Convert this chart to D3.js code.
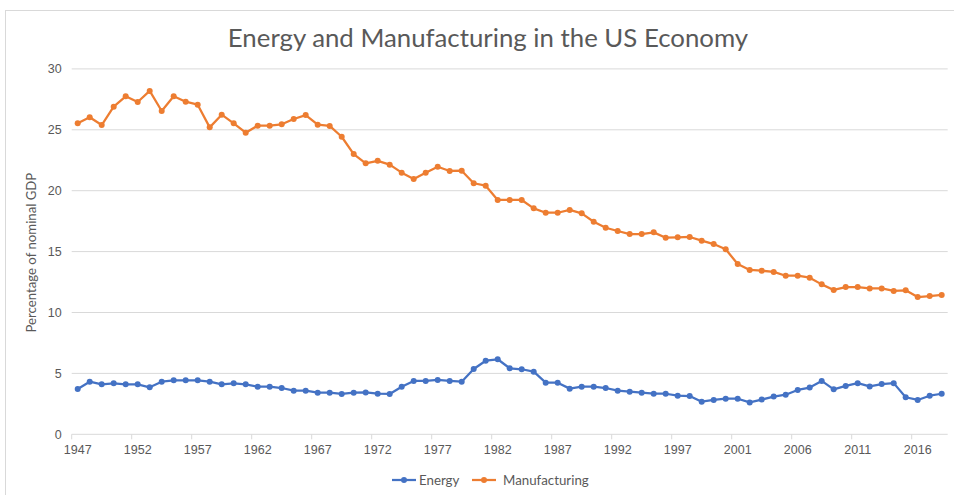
<!DOCTYPE html>
<html>
<head>
<meta charset="utf-8">
<script src="https://cdn.jsdelivr.net/npm/d3@7"></script>
<style>
  html, body { margin: 0; padding: 0; background: #fff; }
  svg { display: block; font-family: Lato, "Open Sans", sans-serif; }
</style>
</head>
<body>
<svg id="chart" width="954" height="495"></svg>
<script>
const categories = [
  "1947","1948","1949","1950","1951","1952","1953","1954","1955","1956",
  "1957","1958","1959","1960","1961","1962","1963","1964","1965","1966",
  "1967","1968","1969","1970","1971","1972","1973","1974","1975","1976",
  "1977","1978","1979","1980","1981","1982","1983","1984","1985","1986",
  "1987","1988","1989","1990","1991","1992","1993","1994","1995","1996",
  "1997","1997","1998","1999","2000","2001","2002","2003","2004","2005",
  "2006","2007","2008","2009","2010","2011","2012","2013","2014","2015",
  "2016","2017","2018"
];
const energy = [
  3.72,4.32,4.10,4.19,4.10,4.10,3.86,4.32,4.43,4.43,
  4.43,4.32,4.10,4.19,4.10,3.91,3.91,3.80,3.58,3.58,
  3.42,3.42,3.31,3.42,3.44,3.33,3.31,3.91,4.38,4.38,
  4.46,4.38,4.32,5.36,6.04,6.16,5.42,5.34,5.14,4.24,
  4.24,3.75,3.91,3.91,3.80,3.58,3.50,3.42,3.33,3.33,
  3.17,3.14,2.68,2.82,2.92,2.92,2.62,2.85,3.10,3.25,
  3.64,3.84,4.38,3.69,3.97,4.20,3.93,4.12,4.20,3.04,
  2.82,3.17,3.33
];
const manufacturing = [
  25.53,26.03,25.39,26.90,27.75,27.28,28.19,26.54,27.75,27.31,
  27.06,25.20,26.24,25.53,24.76,25.34,25.34,25.45,25.89,26.21,
  25.42,25.32,24.43,23.01,22.25,22.45,22.14,21.48,20.96,21.48,
  21.97,21.62,21.64,20.61,20.41,19.24,19.24,19.24,18.55,18.19,
  18.19,18.42,18.14,17.45,16.96,16.69,16.44,16.44,16.58,16.14,
  16.17,16.20,15.90,15.62,15.19,13.98,13.49,13.43,13.33,13.02,
  13.02,12.86,12.31,11.85,12.09,12.09,11.98,11.98,11.77,11.82,
  11.27,11.35,11.44
];
const yTicks = [0, 5, 10, 15, 20, 25, 30];
const seriesNames = ["Energy", "Manufacturing"];
const seriesColors = ["#4472C4", "#ED7D31"];
const titleText = "Energy and Manufacturing in the US Economy";
const yTitle = "Percentage of nominal GDP";

const svg = d3.select("#chart");
const plot = { left: 71.7, right: 947.7, top: 68.9, bottom: 434.3 };
const textColor = "#595959";

// outer border
svg.append("rect").attr("x", 5.5).attr("y", 10.5).attr("width", 960).attr("height", 500)
  .attr("fill", "none").attr("stroke", "#d9d9d9").attr("stroke-width", 1);

const x = d3.scaleBand().domain(d3.range(categories.length)).range([plot.left, plot.right]).padding(0);
const y = d3.scaleLinear().domain([0, 30]).range([plot.bottom, plot.top]);
const bw = x.bandwidth();
const cx = i => x(i) + bw / 2;

// gridlines
svg.append("g").selectAll("line").data(yTicks.filter(t => t > 0)).join("line")
  .attr("x1", plot.left).attr("x2", plot.right)
  .attr("y1", d => y(d)).attr("y2", d => y(d))
  .attr("stroke", "#d9d9d9").attr("stroke-width", 1);

// y axis labels
const yAxis = d3.axisLeft(y).tickValues(yTicks).tickSize(0).tickPadding(10);
const gy = svg.append("g").attr("transform", `translate(${plot.left},0)`).call(yAxis);
gy.select(".domain").remove();
gy.selectAll("text").attr("fill", textColor).style("font-size", "12.5px");

// x axis
const tickIdx = d3.range(0, categories.length, 5);
const xAxis = d3.axisBottom(x).tickValues(tickIdx).tickFormat(i => categories[i]).tickSize(5).tickPadding(6);
const gx = svg.append("g").attr("transform", `translate(0,${plot.bottom})`).call(xAxis);
gx.select(".domain").attr("stroke", "#d9d9d9").attr("d", `M${plot.left},0H${plot.right}`);
gx.selectAll(".tick line").attr("stroke", "#d9d9d9").attr("x1", -bw / 2).attr("x2", -bw / 2);
gx.selectAll("text").attr("fill", textColor).style("font-size", "12.5px");

// series
const allSeries = [energy, manufacturing];
allSeries.forEach((vals, s) => {
  const line = d3.line().x((d, i) => cx(i)).y(d => y(d));
  const g = svg.append("g");
  g.append("path").datum(vals).attr("d", line)
    .attr("fill", "none").attr("stroke", seriesColors[s]).attr("stroke-width", 2.25)
    .attr("stroke-linejoin", "round");
  g.selectAll("circle").data(vals).join("circle")
    .attr("cx", (d, i) => cx(i)).attr("cy", d => y(d)).attr("r", 3)
    .attr("fill", seriesColors[s]);
});

// title
svg.append("text").attr("x", 488).attr("y", 47).attr("text-anchor", "middle")
  .attr("fill", textColor).style("font-size", "25.8px").text(titleText);

// y title
svg.append("text").attr("transform", `translate(36,${(plot.top + plot.bottom) / 2 + 1}) rotate(-90)`)
  .attr("text-anchor", "middle").attr("fill", textColor).style("font-size", "13.2px").text(yTitle);

// legend
const legendY = 480;
const legendItems = [
  { name: seriesNames[0], color: seriesColors[0], x0: 392 },
  { name: seriesNames[1], color: seriesColors[1], x0: 472 }
];
legendItems.forEach(it => {
  const g = svg.append("g");
  g.append("line").attr("x1", it.x0).attr("x2", it.x0 + 24).attr("y1", legendY).attr("y2", legendY)
    .attr("stroke", it.color).attr("stroke-width", 2.25);
  g.append("circle").attr("cx", it.x0 + 12).attr("cy", legendY).attr("r", 3).attr("fill", it.color);
  g.append("text").attr("x", it.x0 + (it.x0 > 400 ? 31 : 27)).attr("y", legendY + 4.5).attr("fill", textColor)
    .style("font-size", "13.3px").text(it.name);
});
</script>
</body>
</html>
